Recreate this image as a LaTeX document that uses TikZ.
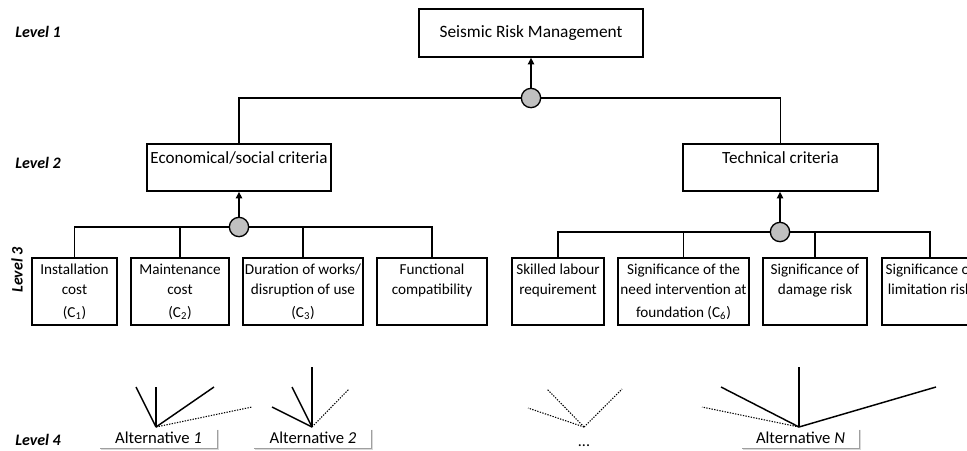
\documentclass[tikz,border=0pt]{standalone}
\usepackage{fontspec}
\setmainfont{Carlito}
\usetikzlibrary{fit,arrows.meta}
\definecolor{hubgray}{RGB}{192,192,192}
\begin{document}
\begin{tikzpicture}[x=0.75pt,y=-0.75pt,
 crit/.style={draw, line width=0.9pt, inner sep=0pt},
 ltwo/.style={anchor=north, inner sep=0pt, yshift=-6pt, font=\fontsize{12.8}{15}\selectfont},
 lthree/.style={anchor=north, align=center, inner sep=0pt, yshift=-4.5pt, font=\fontsize{11.4}{15}\selectfont},
 hub/.style={circle, draw, line width=1pt, fill=hubgray, minimum size=14.5pt, inner sep=0pt},
 link/.style={line width=0.9pt},
 upar/.style={line width=1.3pt, -{Triangle[length=5pt,width=4.5pt]}},
 lvl/.style={font=\fontsize{12}{14}\selectfont\bfseries\itshape, inner sep=0pt},
 altbox/.style={minimum width=87.75pt, minimum height=15.75pt, inner sep=0pt, font=\fontsize{12.5}{14}\selectfont},
 shad/.style={gray!75, line width=1pt},
 shadl/.style={gray!30, line width=1pt},
 soll/.style={line width=1.1pt},
 dotl/.style={line width=0.8pt, dash pattern=on 1pt off 1pt}]
\useasboundingbox (0,0) rectangle (967,450);
\clip (0,0) rectangle (967,450);

% level labels
\node[lvl, anchor=west] (lv1) at (15,32) {Level 1};
\node[lvl, anchor=west] (lv2) at (15,163) {Level 2};
\node[lvl, rotate=90] (lv3) at (17,270) {Level 3};
\node[lvl, anchor=west] (lv4) at (15,440) {Level 4};

% level 1
\node[crit, minimum width=168pt, minimum height=36pt, font=\fontsize{13}{15}\selectfont] (top) at (531,33) {Seismic Risk Management};

% level 2
\node[crit, fit={(147,144)(331,191)}, label={[ltwo]north:Economical/social criteria}] (eco) {};
\node[crit, fit={(683,144)(878,191)}, label={[ltwo]north:Technical criteria}] (tech) {};

% level 3
\node[crit, fit={(32,258)(117,325)}, label={[lthree]north:{Installation\\cost\\[2.5pt](C\textsubscript{1})}}] (inst) {};
\node[crit, fit={(131,258)(229,325)}, label={[lthree]north:{Maintenance\\cost\\[2.5pt](C\textsubscript{2})}}] (maint) {};
\node[crit, fit={(243,258)(363,325)}, label={[lthree]north:{Duration of works/\\disruption of use\\[2.5pt](C\textsubscript{3})}}] (dur) {};
\node[crit, fit={(377,258)(487,325)}, label={[lthree]north:{Functional\\compatibility}}] (func) {};
\node[crit, fit={(512,258)(604,325)}, label={[lthree]north:{Skilled labour\\requirement}}] (skill) {};
\node[crit, fit={(618,258)(749,325)}, label={[lthree]north:{Significance of the\\need intervention at\\[2.5pt]foundation (C\textsubscript{6})}}] (need) {};
\node[crit, fit={(763,258)(867,325)}, label={[lthree]north:{Significance of\\damage risk}}] (dmg) {};
\node[crit, fit={(882,258)(978,325)}, label={[lthree]north:{Significance of\\limitation risk}}] (lim) {};

% hubs
\node[hub] (h1) at (531,98) {};
\node[hub] (h2) at (239,227) {};
\node[hub] (h3) at (780,232) {};

% connectors
\draw[link] (h1.west) -| (eco.north);
\draw[link] (h1.east) -| (tech.north);
\draw[upar] (h1.north) -- (h1.north |- top.south);
\draw[upar] (h2.north) -- (h2.north |- eco.south);
\draw[upar] (h3.north) -- (h3.north |- tech.south);

\draw[link] (h2.west) -| (inst.north);
\draw[link] (h2.west) -| (maint.north);
\draw[link] (h2.east) -| (dur.north);
\draw[link] (h2.east) -| (func.north);

\draw[link] (h3.west) -| (skill.north);
\draw[link] (h3.west) -| (need.north);
\draw[link] (h3.east) -| (dmg.north);
\draw[link] (h3.east) -| (lim.north);

% level 4 alternatives
\node[altbox] (a1) at (158.5,437.5) {Alternative \textit{1}};
\node[altbox] (a2) at (313,437.5) {Alternative \textit{2}};
\node[altbox] (aN) at (800.5,437.5) {Alternative \textit{N}};
\node[anchor=base, font=\fontsize{12}{14}\selectfont, inner sep=0pt] (dots) at (584,446) {...};

\foreach \b in {a1,a2,aN}{
  \draw[shadl] ([shift={(1,3)}]\b.north east) -- ([shift={(1,1)}]\b.south east) -- ([shift={(1,1)}]\b.south west);
  \draw[shad] ([shift={(0,3)}]\b.north east) -- (\b.south east) -- (\b.south west);
}

% apexes and free ends
\coordinate (p1) at (156,427);
\coordinate (p2) at (312,427);
\coordinate (p3) at (584,427);
\coordinate (p4) at (799,427);

\coordinate (e11) at (136,387); \coordinate (e12) at (156,387);
\coordinate (e13) at (214,387); \coordinate (e14) at (252,407);
\coordinate (e21) at (312,367); \coordinate (e22) at (292,387);
\coordinate (e23) at (272,407); \coordinate (e24) at (349,389);
\coordinate (e31) at (528,408); \coordinate (e32) at (547,389);
\coordinate (e33) at (622,389);
\coordinate (e41) at (799,367); \coordinate (e42) at (721,387);
\coordinate (e43) at (936,387); \coordinate (e44) at (702,407);

\draw[soll] (p1) -- (e11); \draw[soll] (p1) -- (e12); \draw[soll] (p1) -- (e13);
\draw[dotl] (p1) -- (e14);
\draw[soll] (p2) -- (e21); \draw[soll] (p2) -- (e22); \draw[soll] (p2) -- (e23);
\draw[dotl] (p2) -- (e24);
\draw[dotl] (p3) -- (e31); \draw[dotl] (p3) -- (e32); \draw[dotl] (p3) -- (e33);
\draw[soll] (p4) -- (e41); \draw[soll] (p4) -- (e42); \draw[soll] (p4) -- (e43);
\draw[dotl] (p4) -- (e44);
\end{tikzpicture}
\end{document}
